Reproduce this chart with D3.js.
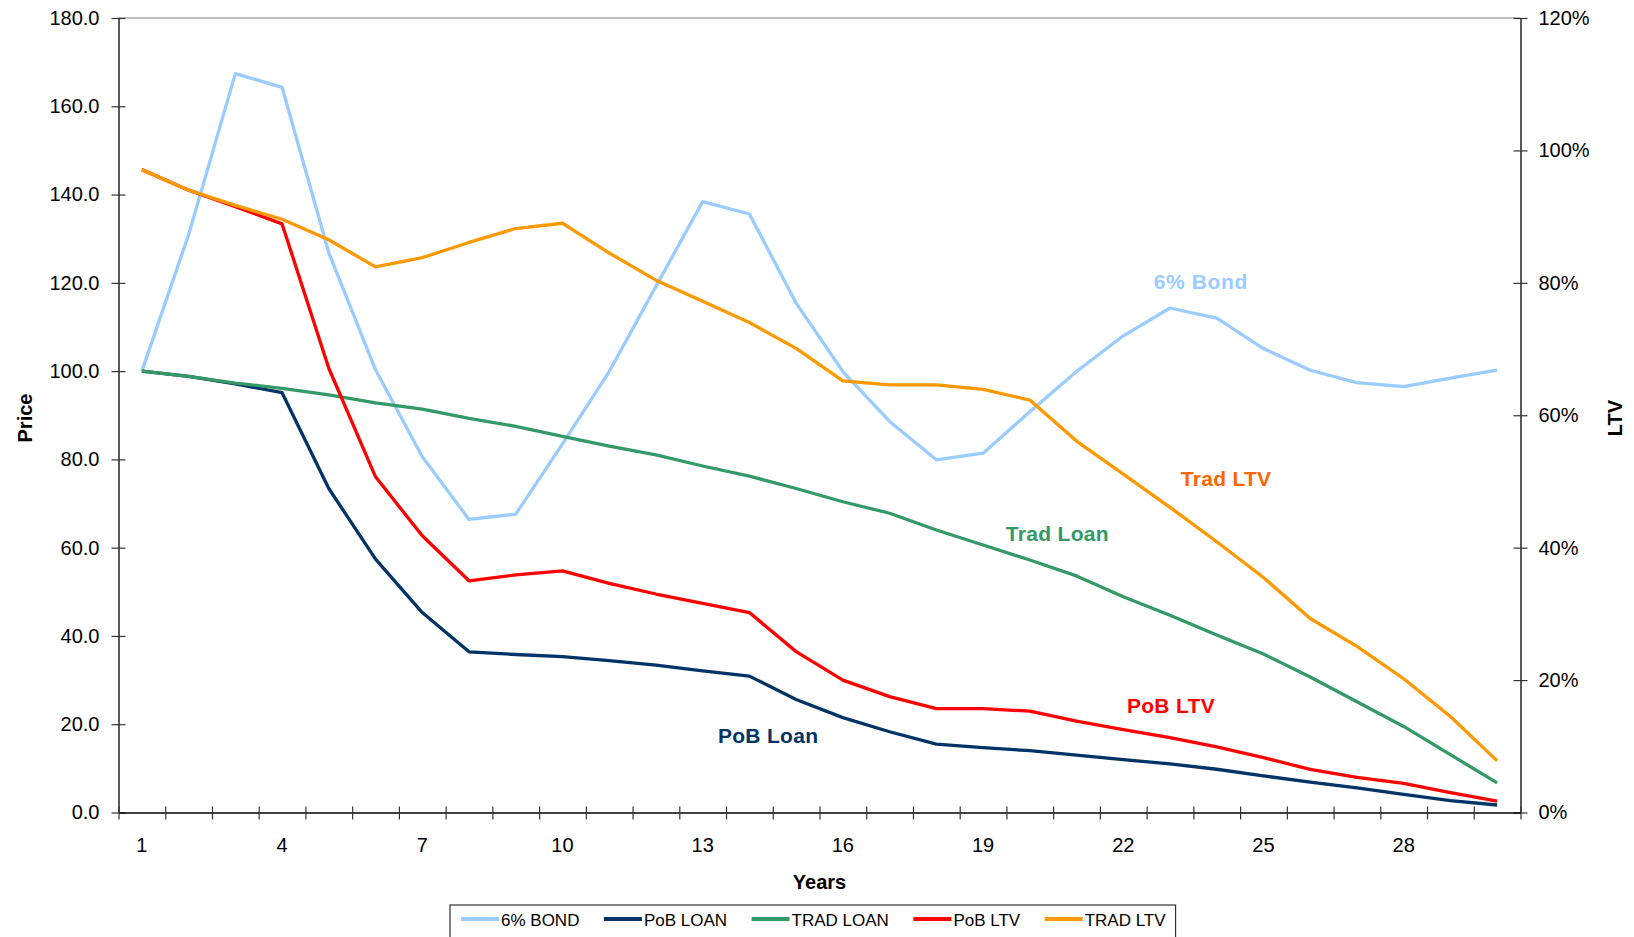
<!DOCTYPE html>
<html>
<head>
<meta charset="utf-8">
<script src="https://cdn.jsdelivr.net/npm/d3@7"></script>
<style>
  html, body { margin: 0; padding: 0; background: #fff; }
  svg { display: block; font-family: "Liberation Sans", Arial, sans-serif; }
</style>
</head>
<body>
<svg id="chart" width="1634" height="937"></svg>
<script>
// ---------------- DATA ----------------
const years = d3.range(1, 31);
const xTickLabels = [1, 4, 7, 10, 13, 16, 19, 22, 25, 28];
const priceTicks = [0, 20, 40, 60, 80, 100, 120, 140, 160, 180];
const ltvTicks = [0, 20, 40, 60, 80, 100, 120];

const bond = [100, 130.9, 167.4, 164.3, 126.8, 100.3, 80.6, 66.4, 67.6, 83.5,
              99.9, 119.2, 138.4, 135.6, 115.4, 99.9, 88.6, 79.9, 81.4, 90.8,
              99.9, 108.0, 114.3, 112.0, 105.1, 100.2, 97.4, 96.5, 98.4, 100.2];
const pobLoan = [100, 98.8, 97.1, 95.1, 73.4, 57.4, 45.3, 36.4, 35.8, 35.3,
                 34.4, 33.4, 32.1, 30.9, 25.6, 21.5, 18.3, 15.5, 14.7, 14.0,
                 13.0, 12.0, 11.0, 9.8, 8.3, 6.9, 5.6, 4.1, 2.7, 1.7];
const tradLoan = [100, 98.8, 97.3, 96.1, 94.6, 92.8, 91.4, 89.3, 87.5, 85.2,
                  83.0, 81.0, 78.5, 76.2, 73.4, 70.4, 67.8, 64.0, 60.6, 57.2,
                  53.6, 48.9, 44.7, 40.2, 35.9, 30.7, 25.1, 19.5, 13.1, 6.7];
const pobLtv = [97.1, 94.0, 91.5, 88.9, 67.1, 50.7, 41.8, 35.0, 35.9, 36.5,
                34.6, 33.0, 31.6, 30.2, 24.3, 20.0, 17.5, 15.7, 15.7, 15.3,
                13.8, 12.5, 11.3, 9.9, 8.3, 6.5, 5.3, 4.4, 3.0, 1.7];
const tradLtv = [97.1, 94.0, 91.7, 89.6, 86.5, 82.4, 83.8, 86.1, 88.2, 89.0,
                 84.5, 80.4, 77.2, 74.0, 70.1, 65.2, 64.6, 64.6, 63.9, 62.3,
                 56.1, 51.1, 46.1, 40.9, 35.5, 29.3, 25.1, 20.2, 14.5, 7.8];

const seriesNames = ["6% BOND", "PoB LOAN", "TRAD LOAN", "PoB LTV", "TRAD LTV"];
const seriesColors = ["#99CCFF", "#003366", "#339966", "#FF0000", "#FF9900"];
const seriesAxis = ["left", "left", "left", "right", "right"];
const seriesValues = [bond, pobLoan, tradLoan, pobLtv, tradLtv];

const annotations = [
  { text: "6% Bond",   color: "#99CCFF", year: 23.66, value: 118.5, axis: "left" },
  { text: "Trad LTV",  color: "#FF6600", year: 24.2,  value: 49.3,  axis: "right" },
  { text: "Trad Loan", color: "#339966", year: 20.59, value: 61.6,  axis: "left" },
  { text: "PoB LTV",   color: "#FF0000", year: 23.02, value: 15.0,  axis: "right" },
  { text: "PoB Loan",  color: "#003366", year: 14.4,  value: 15.8,  axis: "left" }
];

// ---------------- LAYOUT ----------------
const svg = d3.select("#chart");
const plotLeft = 118.5, plotRight = 1520.5, plotTop = 18, plotBottom = 812.5;

const x = d3.scaleBand().domain(years).range([plotLeft, plotRight]).padding(0);
const xEdge = d3.scaleLinear().domain([0, years.length]).range([plotLeft, plotRight]);
const yL = d3.scaleLinear().domain([0, 180]).range([plotBottom, plotTop]);
const yR = d3.scaleLinear().domain([0, 120]).range([plotBottom, plotTop]);
const cx = d => x(d) + x.bandwidth() / 2;
// fractional year position (for annotation placement)
const xYear = v => xEdge(v - 0.5);

// top border
svg.append("line")
  .attr("x1", plotLeft).attr("x2", plotRight).attr("y1", plotTop).attr("y2", plotTop)
  .attr("stroke", "#808080").attr("stroke-width", 1);

// ---------------- AXES ----------------
function styleAxis(g) {
  g.select(".domain").attr("stroke", "#000").attr("stroke-width", 1.3);
  g.selectAll(".tick line").attr("stroke", "#333").attr("stroke-width", 1.2);
  g.selectAll(".tick text").attr("fill", "#000").attr("font-size", 20)
    .attr("font-family", "'Liberation Sans', Arial, sans-serif");
}

const gL = svg.append("g").attr("transform", `translate(${plotLeft},0)`)
  .call(d3.axisLeft(yL).tickValues(priceTicks).tickFormat(d3.format(".1f"))
        .tickSizeInner(7).tickSizeOuter(0).tickPadding(12));
gL.selectAll(".tick line").attr("x1", 7);
styleAxis(gL);

const gR = svg.append("g").attr("transform", `translate(${plotRight},0)`)
  .call(d3.axisRight(yR).tickValues(ltvTicks).tickFormat(d => d + "%")
        .tickSizeInner(7).tickSizeOuter(0).tickPadding(11));
gR.selectAll(".tick line").attr("x1", -7);
styleAxis(gR);

// x axis: tick marks at band edges
const gXT = svg.append("g").attr("transform", `translate(0,${plotBottom})`)
  .call(d3.axisBottom(xEdge).tickValues(d3.range(0, years.length + 1))
        .tickFormat("").tickSizeInner(7).tickSizeOuter(0));
gXT.selectAll(".tick line").attr("y1", -6);
styleAxis(gXT);

// x labels at band centers
const gXL = svg.append("g").attr("transform", `translate(0,${plotBottom})`)
  .call(d3.axisBottom(x).tickValues(xTickLabels).tickSize(0).tickPadding(25.5));
gXL.select(".domain").remove();
styleAxis(gXL);

// axis titles
svg.append("text").attr("x", plotLeft + (plotRight - plotLeft) / 2).attr("y", 889)
  .attr("text-anchor", "middle").attr("font-size", 20).attr("font-weight", "bold")
  .text("Years");
svg.append("text").attr("transform", "translate(32,418) rotate(-90)")
  .attr("text-anchor", "middle").attr("font-size", 20).attr("font-weight", "bold")
  .text("Price");
svg.append("text").attr("transform", "translate(1622,418) rotate(-90)")
  .attr("text-anchor", "middle").attr("font-size", 20).attr("font-weight", "bold")
  .text("LTV");

// ---------------- LINES ----------------
seriesValues.forEach((vals, i) => {
  const ys = seriesAxis[i] === "left" ? yL : yR;
  const line = d3.line().x((d, j) => cx(years[j])).y(d => ys(d));
  svg.append("path").datum(vals)
    .attr("d", line)
    .attr("fill", "none")
    .attr("stroke", seriesColors[i])
    .attr("stroke-width", 3.3)
    .attr("stroke-linejoin", "round");
});

// ---------------- ANNOTATIONS ----------------
annotations.forEach(a => {
  const ys = a.axis === "left" ? yL : yR;
  svg.append("text")
    .attr("x", xYear(a.year)).attr("y", ys(a.value))
    .attr("text-anchor", "middle")
    .attr("font-size", 21).attr("font-weight", "bold")
    .attr("fill", a.color)
    .attr("letter-spacing", a.text === "6% Bond" ? 0.6 : 0.3)
    .text(a.text);
});

// ---------------- LEGEND ----------------
const leg = svg.append("g");
const legBox = leg.append("rect")
  .attr("x", 450).attr("y", 905).attr("height", 40)
  .attr("fill", "#fff").attr("stroke", "#333").attr("stroke-width", 1.2);
let lx = 461;
seriesNames.forEach((name, i) => {
  leg.append("line").attr("x1", lx).attr("x2", lx + 38)
    .attr("y1", 919).attr("y2", 919)
    .attr("stroke", seriesColors[i]).attr("stroke-width", 4);
  const t = leg.append("text").attr("x", lx + 40).attr("y", 925.5)
    .attr("font-size", 17).attr("fill", "#000").text(name);
  lx += 40 + t.node().getComputedTextLength() + 24.5;
});
legBox.attr("width", lx - 24.5 + 10 - 450);
</script>
</body>
</html>
